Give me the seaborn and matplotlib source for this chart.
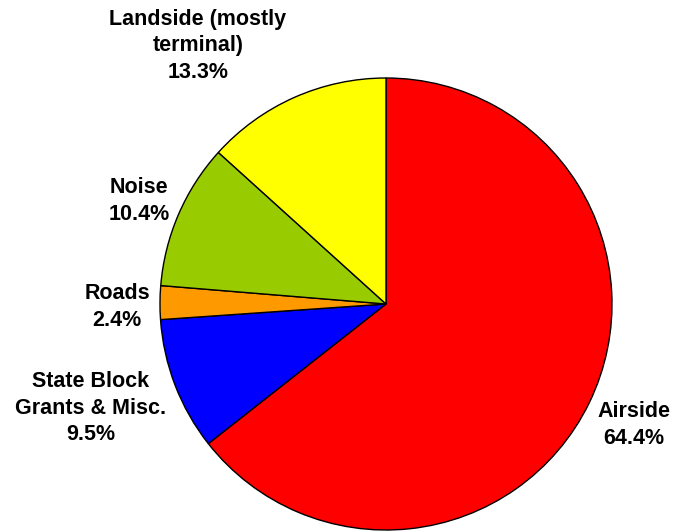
import matplotlib
matplotlib.use("Agg")
import matplotlib.pyplot as plt
import seaborn as sns

# data
categories = ["Airside", "State Block\nGrants & Misc.", "Roads", "Noise", "Landside (mostly\nterminal)"]
shares = [64.4, 9.5, 2.4, 10.4, 13.3]
colors = ["#FF0000", "#0000FF", "#FF9900", "#99CC00", "#FFFF00"]
label_pos = [(634, 425), (91, 408), (117, 307), (139, 201), (198, 46)]

sns.set_theme(style="white")
plt.rcParams["font.family"] = ["Liberation Sans", "DejaVu Sans"]

fig = plt.figure(figsize=(6.73, 5.31), dpi=100)
ax = fig.add_axes([0, 0, 1, 1])

ax.pie(shares, colors=colors, startangle=90, counterclock=False,
       radius=226, center=(386, 227),
       wedgeprops=dict(edgecolor="black", linewidth=1))

for name, val, (x, y) in zip(categories, shares, label_pos):
    ax.text(x, 531 - y, f"{name}\n{val}%", ha="center", va="center",
            fontsize=15.5, fontweight="bold", color="black", linespacing=1.35)

ax.set_xlim(0, 673)
ax.set_ylim(0, 531)
ax.set_aspect("equal")
ax.axis("off")

fig.savefig("out.png", dpi=100)
